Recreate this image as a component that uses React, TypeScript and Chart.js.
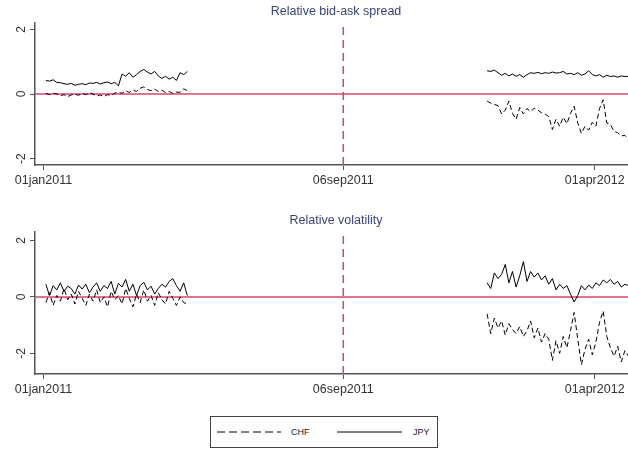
import { useEffect, useRef } from "react";
import { Chart, registerables } from "chart.js";

Chart.register(...registerables);

// ---------- data ----------
const originDate = "2011-01-01";
const xTickDates = ["2011-01-01", "2011-09-06", "2012-04-01"];
const xTickLabels = ["01jan2011", "06sep2011", "01apr2012"];
const yTicks = [-2, 0, 2];
const eventDate = "2011-09-06";
const xRangeDates = ["2010-12-25", "2012-05-06"];
const seriesNames = ["CHF", "JPY"];
const segment1Start = "2011-01-03";
const segment2Start = "2012-01-03";
const sampleStepDays = 3;

const spreadCHF1 = [0.02, -0.02, 0.03, 0.0, -0.05, -0.02, -0.08, -0.03, 0.0, -0.04, 0.02, -0.02, 0.04, 0.0, -0.06, -0.03, -0.08, -0.02, -0.05, 0.03, 0.06, 0.02, 0.1, 0.05, 0.12, 0.08, 0.18, 0.22, 0.14, 0.1, 0.15, 0.08, 0.12, 0.04, 0.08, 0.02, 0.06, 0.05, 0.16, 0.1];
const spreadJPY1 = [0.42, 0.4, 0.44, 0.36, 0.35, 0.32, 0.3, 0.33, 0.27, 0.3, 0.32, 0.29, 0.34, 0.33, 0.36, 0.31, 0.35, 0.37, 0.32, 0.36, 0.25, 0.62, 0.55, 0.66, 0.52, 0.6, 0.7, 0.76, 0.68, 0.62, 0.7, 0.56, 0.48, 0.55, 0.46, 0.52, 0.42, 0.66, 0.6, 0.7];
const spreadCHF2 = [-0.22, -0.28, -0.32, -0.36, -0.62, -0.5, -0.22, -0.6, -0.78, -0.42, -0.62, -0.45, -0.55, -0.44, -0.5, -0.58, -0.62, -0.7, -1.1, -0.78, -1.0, -0.72, -0.92, -0.6, -0.38, -0.9, -1.22, -1.0, -1.12, -0.88, -1.0, -0.45, -0.18, -0.9, -0.95, -1.15, -1.2, -1.3, -1.28, -1.42];
const spreadJPY2 = [0.72, 0.7, 0.74, 0.66, 0.58, 0.64, 0.56, 0.62, 0.55, 0.6, 0.52, 0.6, 0.66, 0.64, 0.67, 0.63, 0.66, 0.64, 0.68, 0.65, 0.66, 0.7, 0.62, 0.64, 0.6, 0.66, 0.58, 0.62, 0.72, 0.6, 0.56, 0.6, 0.52, 0.58, 0.54, 0.56, 0.52, 0.56, 0.54, 0.55];

const volCHF1 = [-0.2, 0.15, -0.3, 0.05, -0.15, 0.3, -0.1, 0.1, -0.25, 0.2, -0.05, -0.3, 0.1, -0.15, 0.25, -0.2, 0.0, -0.35, 0.2, -0.1, 0.05, -0.25, 0.3, -0.05, -0.35, 0.1, -0.2, 0.25, -0.15, 0.05, -0.3, 0.15, -0.1, -0.25, 0.2, -0.05, -0.3, 0.0, -0.2, -0.25];
const volJPY1 = [0.45, 0.05, 0.4, 0.25, 0.5, 0.2, 0.38, 0.3, 0.1, 0.42, 0.28, 0.45, 0.15, 0.35, 0.5, 0.2, 0.4, 0.3, 0.55, 0.1, 0.48, 0.35, 0.62, 0.2, 0.45, 0.05, 0.4, 0.52, 0.25, 0.38, 0.1, 0.3, 0.45, 0.35, 0.55, 0.65, 0.4, 0.2, 0.5, 0.05];
const volCHF2 = [-0.6, -1.3, -0.75, -1.1, -0.85, -1.35, -0.95, -1.15, -1.3, -1.05, -1.4, -1.2, -0.85, -1.45, -1.1, -1.6, -1.3, -1.5, -2.25, -1.55, -2.0, -1.4, -1.8, -1.2, -0.55, -1.5, -2.4, -1.85, -1.5, -2.05, -1.6, -0.9, -0.5, -1.4, -1.8, -2.1, -1.75, -2.3, -1.9, -2.1];
const volJPY2 = [0.5, 0.3, 0.85, 0.65, 0.8, 1.15, 0.5, 0.9, 0.35, 0.75, 1.25, 0.55, 0.9, 0.7, 0.85, 0.6, 0.75, 0.45, 0.65, 0.25, 0.45, 0.3, 0.4, 0.1, -0.18, 0.05, 0.4, 0.25, 0.42, 0.3, 0.5, 0.4, 0.6, 0.5, 0.62, 0.45, 0.55, 0.35, 0.45, 0.4];

const panelTitles = ["Relative bid-ask spread", "Relative volatility"];
const panelYRanges = [
  [-2.2, 2.2],
  [-2.73, 2.3],
];

// ---------- helpers ----------
const FONT = '"Liberation Sans", Arial, Helvetica, sans-serif';
const RED = "#de426b";
const AXIS = "#555555";

const dayOf = (s: string) => (Date.parse(s) - Date.parse(originDate)) / 86400000;

function buildSeries(seg1: number[], seg2: number[]) {
  const s1 = dayOf(segment1Start);
  const s2 = dayOf(segment2Start);
  const pts: { x: number; y: number | null }[] = [];
  seg1.forEach((v, i) => pts.push({ x: s1 + i * sampleStepDays, y: v }));
  pts.push({ x: (s1 + seg1.length * sampleStepDays + s2) / 2, y: null });
  seg2.forEach((v, i) => pts.push({ x: s2 + i * sampleStepDays, y: v }));
  return pts;
}

const decorPlugin = {
  id: "panelDecor",
  afterDraw(chart: any, _args: any, opts: any) {
    const ctx = chart.ctx;
    const y = chart.scales.y;
    const area = chart.chartArea;
    ctx.save();
    ctx.font = `12px ${FONT}`;
    ctx.fillStyle = "#333333";
    ctx.textAlign = "center";
    ctx.textBaseline = "middle";
    y.ticks.forEach((t: any) => {
      const py = y.getPixelForValue(t.value);
      ctx.save();
      ctx.translate(area.left - 13, py);
      ctx.rotate(-Math.PI / 2);
      ctx.fillText(String(t.value), 0, 0);
      ctx.restore();
    });
    ctx.fillStyle = "#37457a";
    ctx.font = `12.5px ${FONT}`;
    ctx.fillText(opts.title, (area.left + area.right) / 2, area.top - 11);
    ctx.restore();
  },
};

function makeConfig(panel: number, chf: any[], jpy: any[]): any {
  const [yMin, yMax] = panelYRanges[panel];
  const xMin = dayOf(xRangeDates[0]);
  const xMax = dayOf(xRangeDates[1]);
  const ev = dayOf(eventDate);
  const tickDays = xTickDates.map(dayOf);
  return {
    type: "line",
    data: {
      datasets: [
        {
          label: seriesNames[0],
          data: chf,
          borderColor: "#000",
          borderWidth: 1,
          borderDash: [5, 3],
          pointRadius: 0,
          spanGaps: false,
          tension: 0,
        },
        {
          label: seriesNames[1],
          data: jpy,
          borderColor: "#000",
          borderWidth: 1,
          pointRadius: 0,
          spanGaps: false,
          tension: 0,
        },
        {
          label: "zero",
          data: [
            { x: xMin, y: 0 },
            { x: xMax, y: 0 },
          ],
          borderColor: RED,
          borderWidth: 1.5,
          pointRadius: 0,
        },
        {
          label: "event",
          data: [
            { x: ev, y: yMin },
            { x: ev, y: yMax },
          ],
          borderColor: RED,
          borderWidth: 1.5,
          borderDash: [8, 5],
          pointRadius: 0,
        },
      ],
    },
    options: {
      animation: false,
      responsive: false,
      maintainAspectRatio: false,
      layout: { padding: { top: 23, right: 3, left: 0, bottom: 0 } },
      plugins: {
        legend: { display: false },
        tooltip: { enabled: false },
        title: { display: false },
        panelDecor: { title: panelTitles[panel] },
      },
      scales: {
        x: {
          type: "linear",
          min: xMin,
          max: xMax,
          afterBuildTicks: (s: any) => {
            s.ticks = tickDays.map((v) => ({ value: v }));
          },
          afterFit: (s: any) => {
            s.height = 35;
          },
          ticks: {
            autoSkip: false,
            maxRotation: 0,
            minRotation: 0,
            padding: 3,
            color: "#333333",
            font: { family: FONT, size: 12.5 },
            callback: (v: number) => {
              const i = tickDays.indexOf(v);
              return i >= 0 ? xTickLabels[i] : "";
            },
          },
          grid: {
            drawOnChartArea: false,
            drawTicks: true,
            tickLength: 5,
            color: AXIS,
            lineWidth: 1,
          },
          border: { display: true, color: AXIS, width: 1.5 },
        },
        y: {
          type: "linear",
          min: yMin,
          max: yMax,
          afterBuildTicks: (s: any) => {
            s.ticks = yTicks.map((v) => ({ value: v }));
          },
          afterFit: (s: any) => {
            s.width = 35;
          },
          ticks: { display: false },
          grid: {
            drawOnChartArea: false,
            drawTicks: true,
            tickLength: 5,
            color: AXIS,
            lineWidth: 1,
          },
          border: { display: true, color: AXIS, width: 1.5 },
        },
      },
    },
    plugins: [decorPlugin],
  };
}

export default function App() {
  const ref1 = useRef<HTMLCanvasElement | null>(null);
  const ref2 = useRef<HTMLCanvasElement | null>(null);

  useEffect(() => {
    const c1 = new Chart(
      ref1.current as HTMLCanvasElement,
      makeConfig(0, buildSeries(spreadCHF1, spreadCHF2), buildSeries(spreadJPY1, spreadJPY2))
    );
    const c2 = new Chart(
      ref2.current as HTMLCanvasElement,
      makeConfig(1, buildSeries(volCHF1, volCHF2), buildSeries(volJPY1, volJPY2))
    );
    return () => {
      c1.destroy();
      c2.destroy();
    };
  }, []);

  return (
    <div
      style={{
        position: "absolute",
        left: 0,
        top: 0,
        width: 628,
        height: 449,
        overflow: "hidden",
        background: "#fff",
        fontFamily: FONT,
      }}
    >
      <canvas ref={ref1} width={640} height={200} style={{ position: "absolute", left: 0, top: 0, width: 640, height: 200 }} />
      <canvas ref={ref2} width={640} height={200} style={{ position: "absolute", left: 0, top: 209, width: 640, height: 200 }} />
      <div
        style={{
          position: "absolute",
          left: 210,
          top: 416,
          width: 228,
          height: 32,
          boxSizing: "border-box",
          border: "1px solid #444",
          background: "#fff",
        }}
      >
        <svg width={226} height={30} style={{ position: "absolute", left: 0, top: 0 }}>
          <line x1={6} y1={15} x2={70} y2={15} stroke="#000" strokeWidth={1} strokeDasharray="8 4" />
          <line x1={126} y1={15} x2={191} y2={15} stroke="#000" strokeWidth={1} />
        </svg>
        <span style={{ position: "absolute", left: 80, top: 9, fontSize: 9, lineHeight: "12px", color: "#222" }}>
          {seriesNames[0]}
        </span>
        <span style={{ position: "absolute", left: 202, top: 9, fontSize: 9, lineHeight: "12px", color: "#222" }}>
          {seriesNames[1]}
        </span>
      </div>
    </div>
  );
}
